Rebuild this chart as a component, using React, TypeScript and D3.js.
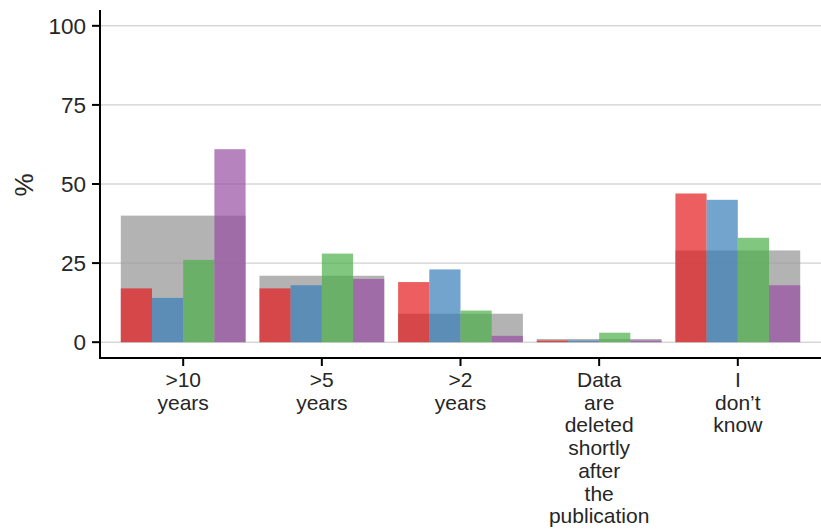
import React from "react";
import * as d3 from "d3";

// Data-retention answers, in percent of respondents
const categories = [">10 years", ">5 years", ">2 years", "Data are deleted shortly after the publication", "I don\u2019t know"];
const overall = [40, 21, 9, 1, 29];
const groupNames = ["A", "B", "C", "D"];
const groupA = [17, 17, 19, 0.5, 47];
const groupB = [14, 18, 23, 0.5, 45];
const groupC = [26, 28, 10, 3, 33];
const groupD = [61, 20, 2, 0.5, 18];
const yTicks = [0, 25, 50, 75, 100];

const groupValues = [groupA, groupB, groupC, groupD];
const groupColors = ["#E41A1C", "#377EB8", "#4DAF4A", "#984EA3"];

const W = 821;
const H = 530;
const FONT = "'Liberation Sans', Arial, Helvetica, sans-serif";
const TEXT = "#262626";

export default function App() {
  const left = 100;
  const right = W;
  const x = d3.scalePoint<string>().domain(categories).range([left, right]).padding(0.6);
  const step = x.step();
  const outerW = step * 0.9;
  const inner = d3
    .scaleBand<string>()
    .domain(groupNames)
    .range([-outerW / 2, outerW / 2])
    .padding(0);

  const y = d3.scaleLinear().domain([-5, 105]).range([358, 10]);
  const y0 = y(0);

  return (
    <svg
      width={W}
      height={H}
      style={{ position: "absolute", left: 0, top: 0, background: "#fff" }}
      fontFamily={FONT}
    >
      {/* horizontal grid */}
      {yTicks.map((t) => (
        <line key={"g" + t} x1={left} x2={right} y1={y(t)} y2={y(t)} stroke="#c4c4c4" strokeWidth={1} />
      ))}

      {/* overall share behind each group */}
      {categories.map((c, i) => (
        <rect
          key={"o" + c}
          x={(x(c) as number) - outerW / 2}
          y={y(overall[i])}
          width={outerW}
          height={y0 - y(overall[i])}
          fill="#999999"
          fillOpacity={0.75}
        />
      ))}

      {/* per-group bars */}
      {categories.map((c, i) =>
        groupNames.map((g, j) => {
          const v = groupValues[j][i];
          return (
            <rect
              key={c + g}
              x={(x(c) as number) + (inner(g) as number)}
              y={y(v)}
              width={inner.bandwidth()}
              height={y0 - y(v)}
              fill={groupColors[j]}
              fillOpacity={0.7}
            />
          );
        })
      )}

      {/* y axis */}
      <line x1={left} x2={left} y1={y(105)} y2={y(-5) + 1} stroke="#000" strokeWidth={2} />
      {yTicks.map((t) => (
        <g key={"yt" + t}>
          <line x1={left - 8} x2={left} y1={y(t)} y2={y(t)} stroke="#000" strokeWidth={2} />
          <text x={left - 14} y={y(t)} dy="0.36em" textAnchor="end" fontSize={22.5} fill={TEXT}>
            {t}
          </text>
        </g>
      ))}
      <text
        transform={`translate(${33},${y(50) + 1}) rotate(-90)`}
        textAnchor="middle"
        fontSize={26}
        fill={TEXT}
      >
        %
      </text>

      {/* x axis */}
      <line x1={left - 1} x2={right} y1={y(-5)} y2={y(-5)} stroke="#000" strokeWidth={2} />
      {categories.map((c) => {
        const cx = x(c) as number;
        const words = c.split(" ");
        return (
          <g key={"xt" + c}>
            <line x1={cx} x2={cx} y1={y(-5)} y2={y(-5) + 8} stroke="#000" strokeWidth={2} />
            <text textAnchor="middle" fontSize={21} fill={TEXT}>
              {words.map((w, k) => (
                <tspan key={k} x={cx} y={387 + k * 22.7}>
                  {w}
                </tspan>
              ))}
            </text>
          </g>
        );
      })}
    </svg>
  );
}
